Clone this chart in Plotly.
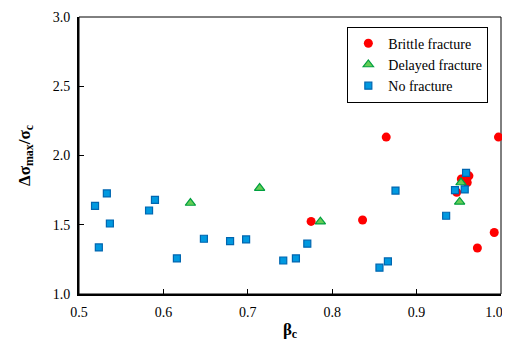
import plotly.graph_objects as go

# Data
brittle_x = [0.775, 0.836, 0.864, 0.9475, 0.953, 0.962, 0.960, 0.972, 0.992, 0.997]
brittle_y = [1.524, 1.534, 2.133, 1.735, 1.830, 1.853, 1.805, 1.332, 1.444, 2.133]

delayed_x = [0.632, 0.714, 0.786, 0.9526, 0.951]
delayed_y = [1.657, 1.765, 1.522, 1.805, 1.665]

nofrac_x = [0.519, 0.533, 0.5366, 0.5235, 0.583, 0.590, 0.616, 0.648, 0.679, 0.698,
            0.7705, 0.742, 0.757, 0.856, 0.866, 0.875, 0.935, 0.9455, 0.957, 0.9586]
nofrac_y = [1.636, 1.726, 1.509, 1.336, 1.603, 1.680, 1.257, 1.399, 1.382, 1.394,
            1.363, 1.242, 1.257, 1.190, 1.235, 1.747, 1.565, 1.750, 1.755, 1.875]

x_ticks = [0.5, 0.6, 0.7, 0.8, 0.9, 1.0]
x_ticktext = ["0.5", "0.6", "0.7", "0.8", "0.9", "1.0" + "\u00a0" * 4]
y_ticks = [1.0, 1.5, 2.0, 2.5, 3.0]

FONT = "Liberation Serif, Times New Roman, serif"

fig = go.Figure()
fig.add_trace(go.Scatter(
    x=brittle_x, y=brittle_y, mode="markers", name="Brittle fracture",
    marker=dict(symbol="circle", size=9, color="#FF0000", line=dict(width=0)),
    cliponaxis=False))
fig.add_trace(go.Scatter(
    x=delayed_x, y=delayed_y, mode="markers", name="Delayed fracture",
    marker=dict(symbol="triangle-up", size=9, color="#66CC55",
                line=dict(width=1.2, color="#00A040")),
    cliponaxis=False))
fig.add_trace(go.Scatter(
    x=nofrac_x, y=nofrac_y, mode="markers", name="No fracture",
    marker=dict(symbol="square", size=7, color="#0099E0",
                line=dict(width=1.2, color="#0066B0")),
    cliponaxis=False))

fig.add_shape(type="rect", xref="paper", yref="paper", x0=0, x1=1, y0=0, y1=1,
              line=dict(color="black", width=1), layer="below")

# page body has an 8px margin, so the figure is sized/positioned to compensate
fig.update_layout(
    width=502, height=335,
    margin=dict(l=71, r=9, t=9, b=49, autoexpand=False),
    paper_bgcolor="white", plot_bgcolor="white",
    font=dict(family=FONT, size=14, color="black"),
    showlegend=True,
    legend=dict(x=0.97, y=0.965, xanchor="right", yanchor="top",
                bgcolor="white", bordercolor="black", borderwidth=1,
                font=dict(family=FONT, size=14, color="black"),
                itemwidth=30, tracegroupgap=0),
    xaxis=dict(range=[0.5, 1.0], tickvals=x_ticks, ticktext=x_ticktext,
               showgrid=False, zeroline=False, showline=True, linecolor="black", linewidth=2,
               ticks="inside", ticklen=5, tickwidth=1, tickcolor="black",
               ticklabeloverflow="allow", ticklabelstandoff=4,
               tickfont=dict(family=FONT, size=14),
               title=dict(text="<b>β<sub>c</sub></b>", font=dict(family=FONT, size=17), standoff=4)),
    yaxis=dict(range=[1.0, 3.0], tickvals=y_ticks, ticktext=[f"{v:.1f}" for v in y_ticks],
               showgrid=False, zeroline=False, showline=True, linecolor="black", linewidth=2,
               ticks="inside", ticklen=5, tickwidth=1, tickcolor="black",
               ticklabeloverflow="allow", ticklabelstandoff=4,
               tickfont=dict(family=FONT, size=14),
               title=dict(text="<b>Δσ<sub>max</sub>/σ<sub>c</sub></b>",
                          font=dict(family=FONT, size=17), standoff=18)),
)

fig.write_html("out.html")
